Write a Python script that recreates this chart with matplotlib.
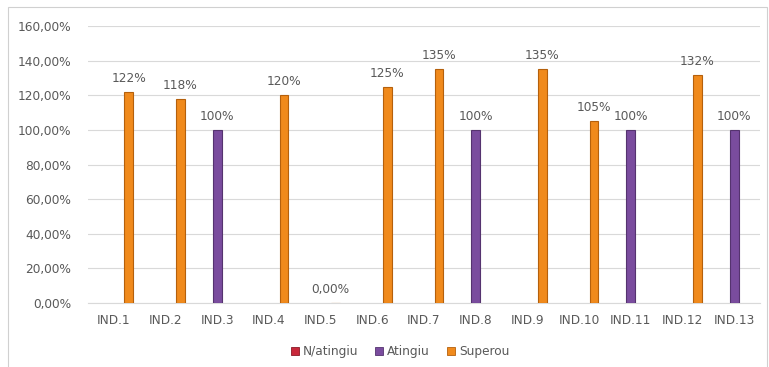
import numpy as np
import matplotlib.pyplot as plt
from matplotlib.patches import Rectangle, Patch

categories = ['IND.1', 'IND.2', 'IND.3', 'IND.4', 'IND.5', 'IND.6', 'IND.7',
              'IND.8', 'IND.9', 'IND.10', 'IND.11', 'IND.12', 'IND.13']
# values in %, None = no bar
n_atingiu = [None] * 13
atingiu = [None, None, 100, None, None, None, None, 100, None, None, 100, None, 100]
superou = [122, 118, None, 120, 0, 125, 135, None, 135, 105, None, 132, None]
labels_superou = ['122%', '118%', '', '120%', '0,00%', '125%', '135%', '', '135%', '105%', '', '132%', '']
labels_atingiu = ['', '', '100%', '', '', '', '', '100%', '', '', '100%', '', '100%']
y_ticks = [0, 20, 40, 60, 80, 100, 120, 140, 160]

colors = {'N/atingiu': '#C8283A', 'Atingiu': '#7A4C9E', 'Superou': '#F08A1C'}
edges = {'N/atingiu': '#8A1A26', 'Atingiu': '#55336F', 'Superou': '#B5600C'}

fig = plt.figure(figsize=(7.69, 3.67), dpi=100)
fig.patches.append(Rectangle((0.0105, -0.01), 0.987, 0.99, transform=fig.transFigure,
                             fill=False, edgecolor='#D0D0D0', linewidth=0.8))
ax = fig.add_axes([0.1144, 0.1744, 0.8739, 0.7546])

x = np.arange(len(categories))
offs = {'N/atingiu': -0.29, 'Atingiu': 0.0, 'Superou': 0.29}
w = 0.17
txt_color = '#595959'

for name, vals, labs in [('N/atingiu', n_atingiu, None),
                         ('Atingiu', atingiu, labels_atingiu),
                         ('Superou', superou, labels_superou)]:
    xs = [xi + offs[name] for xi, v in zip(x, vals) if v is not None]
    vs = [v for v in vals if v is not None]
    if vs:
        ax.bar(xs, vs, width=w, color=colors[name], edgecolor=edges[name],
               linewidth=0.8, zorder=3)
    if labs is None:
        continue
    for xi, v, lab in zip(x, vals, labs):
        if v is None or not lab:
            continue
        ax.text(xi + offs[name] - (0.1 if v == 0 else 0), v + 4, lab, ha='center', va='bottom',
                fontsize=8.7, color=txt_color)

ax.set_xlim(-0.5, len(categories) - 0.5)
ax.set_ylim(0, 160)
ax.set_yticks(y_ticks)
ax.set_yticklabels([f'{t},00%' for t in y_ticks])
ax.set_xticks(x)
ax.set_xticklabels(categories)
ax.tick_params(axis='both', length=0, labelsize=8.7, labelcolor=txt_color)
ax.tick_params(axis='y', pad=12)
ax.tick_params(axis='x', pad=8)
ax.grid(axis='y', color='#D9D9D9', linewidth=0.8, zorder=0)
for s in ['top', 'right', 'left']:
    ax.spines[s].set_visible(False)
ax.spines['bottom'].set_color('#D9D9D9')

handles = [Patch(facecolor=colors[n], edgecolor=edges[n], linewidth=0.6, label=n)
           for n in ['N/atingiu', 'Atingiu', 'Superou']]
fig.legend(handles=handles, loc='center', bbox_to_anchor=(0.52, 0.042), ncol=3,
           frameon=False, fontsize=8.7, labelcolor=txt_color, handlelength=0.7,
           handleheight=0.7, handletextpad=0.3, columnspacing=1.4)

fig.savefig('out.png', dpi=100)
